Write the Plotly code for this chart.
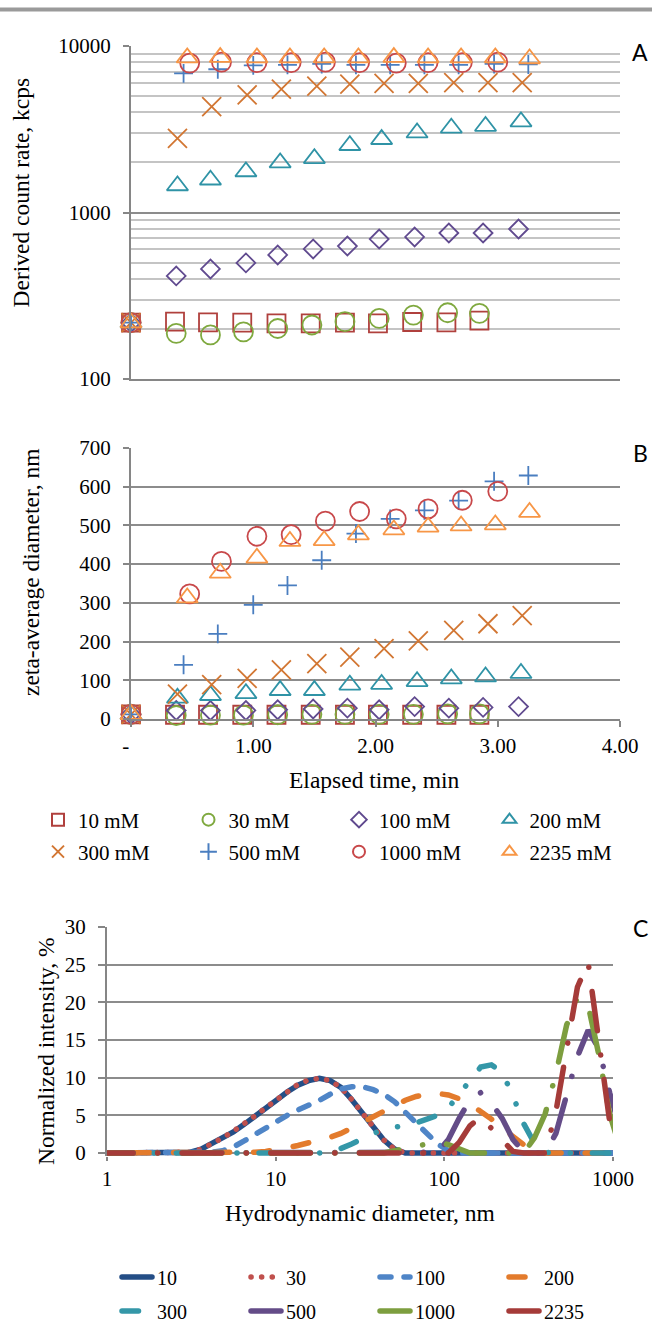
import plotly.graph_objects as go

W, H = 652, 1325

# ---------------- data: panels A & B (kinetics) ----------------
series_labels = ["10 mM", "30 mM", "100 mM", "200 mM", "300 mM", "500 mM", "1000 mM", "2235 mM"]

t_10 = [0, 0.36, 0.63, 0.91, 1.19, 1.47, 1.75, 2.02, 2.30, 2.58, 2.85]
t_30 = [0, 0.37, 0.65, 0.92, 1.20, 1.48, 1.75, 2.03, 2.31, 2.59, 2.85]
t_100 = [0, 0.37, 0.65, 0.94, 1.20, 1.49, 1.77, 2.03, 2.32, 2.60, 2.88, 3.17]
t_200 = [0, 0.38, 0.65, 0.94, 1.22, 1.50, 1.79, 2.05, 2.34, 2.62, 2.90, 3.19]
t_300 = [0, 0.38, 0.66, 0.95, 1.23, 1.52, 1.79, 2.07, 2.35, 2.64, 2.92, 3.20]
t_500 = [0, 0.43, 0.71, 1.00, 1.28, 1.56, 1.84, 2.12, 2.40, 2.68, 2.97, 3.25]
t_1000 = [0, 0.48, 0.74, 1.03, 1.31, 1.59, 1.87, 2.17, 2.43, 2.71, 3.00]
t_2235 = [0, 0.46, 0.73, 1.03, 1.30, 1.58, 1.86, 2.15, 2.43, 2.70, 2.98, 3.26]

# Panel A: derived count rate, kcps
rate_10 = [218, 221, 219, 218, 216, 216, 218, 216, 220, 219, 224]
rate_30 = [218, 188, 184, 192, 201, 211, 221, 231, 242, 250, 248]
rate_100 = [218, 416, 458, 498, 556, 604, 629, 693, 713, 753, 753, 796]
rate_200 = [218, 1450, 1570, 1760, 1990, 2110, 2530, 2750, 3010, 3220, 3300, 3510]
rate_300 = [218, 2790, 4320, 5080, 5500, 5750, 5910, 5970, 5970, 6030, 6030, 6030]
rate_500 = [218, 6850, 7250, 7650, 7700, 7800, 7700, 7700, 7700, 7700, 7800, 7750]
rate_1000 = [218, 7900, 8000, 7950, 7950, 8000, 7950, 7900, 7950, 7950, 8000]
rate_2235 = [218, 8500, 8550, 8500, 8500, 8500, 8500, 8550, 8500, 8500, 8500, 8400]

# Panel B: zeta-average diameter, nm
zave_10 = [12, 11, 11, 11, 11, 11, 11, 11, 11, 11, 11]
zave_30 = [12, 9, 10, 10, 11, 12, 12, 12, 12, 13, 13]
zave_100 = [12, 22, 22, 22, 24, 26, 28, 24, 32, 28, 30, 32]
zave_200 = [12, 54, 61, 66, 74, 74, 88, 90, 97, 104, 109, 118]
zave_300 = [12, 64, 89, 105, 127, 143, 160, 182, 202, 229, 246, 267]
zave_500 = [12, 140, 220, 295, 345, 410, 479, 517, 539, 564, 614, 629]
zave_1000 = [12, 323, 407, 472, 476, 511, 536, 517, 543, 565, 588]
zave_2235 = [12, 313, 377, 416, 459, 461, 476, 489, 496, 499, 502, 534]

rate_ticks = [100, 1000, 10000]
rate_ticktext = ["100", "1000", "10000"]
time_ticks = [0, 1, 2, 3, 4]
time_ticktext = ["-\u00a0\u00a0", "1.00", "2.00", "3.00", "4.00"]

# ---------------- data: panel C (intensity distributions) ----------------
psd_labels = ["10", "30", "100", "200", "300", "500", "1000", "2235"]
diam_nm = [0.8332, 0.9649, 1.117, 1.294, 1.499, 1.736, 2.01, 2.328, 2.696, 3.122,
           3.615, 4.187, 4.849, 5.615, 6.503, 7.531, 8.721, 10.1, 11.7, 13.54,
           15.69, 18.17, 21.04, 24.36, 28.21, 32.67, 37.84, 43.82, 50.75, 58.77,
           68.06, 78.82, 91.28, 105.7, 122.4, 141.8, 164.2, 190.1, 220.2, 255.0,
           295.3, 342.0, 396.1, 458.7, 531.2, 615.1, 712.4, 825.0, 955.4, 1106]
int_10 = [0, 0, 0, 0, 0, 0, 0, 0, 0, 0.1,
          0.5, 1.2, 2.0, 2.8, 3.8, 4.8, 5.9, 7.0, 8.1, 9.0,
          9.6, 9.9, 9.6, 8.7, 7.1, 5.3, 3.4, 1.7, 0.5, 0,
          0, 0, 0, 0, 0, 0, 0, 0, 0, 0,
          0, 0, 0, 0, 0, 0, 0, 0, 0, 0]
int_30 = [0, 0, 0, 0, 0, 0, 0, 0, 0, 0.1,
          0.5, 1.2, 2.0, 2.9, 3.8, 4.9, 6.0, 7.1, 8.2, 9.1,
          9.7, 9.9, 9.6, 8.7, 7.1, 5.3, 3.4, 1.7, 0.5, 0,
          0, 0, 0, 0, 0, 0, 0, 0, 0, 0,
          0, 0, 0, 0, 0, 0, 0, 0, 0, 0]
int_100 = [0, 0, 0, 0, 0, 0, 0, 0, 0, 0,
           0, 0.1, 0.3, 0.8, 1.6, 2.5, 3.4, 4.2, 5.0, 5.7,
           6.3, 7.0, 7.8, 8.5, 8.8, 8.8, 8.4, 7.8, 6.8, 5.4,
           4.0, 2.5, 1.2, 0.3, 0, 0, 0, 0, 0, 0,
           0, 0, 0, 0, 0, 0, 0, 0, 0, 0]
int_200 = [0, 0, 0, 0, 0, 0, 0, 0, 0, 0,
           0, 0, 0, 0, 0, 0.1, 0.2, 0.4, 0.7, 1.0,
           1.3, 1.7, 2.1, 2.6, 3.3, 4.1, 4.8, 5.6, 6.3, 7.0,
           7.5, 7.8, 7.9, 7.7, 7.2, 6.5, 5.6, 4.5, 3.3, 2.1,
           1.1, 0.4, 0, 0, 0, 0, 0, 0, 0, 0]
int_300 = [0, 0, 0, 0, 0, 0, 0, 0, 0, 0,
           0, 0, 0, 0, 0, 0, 0, 0, 0, 0,
           0, 0, 0.2, 0.6, 1.2, 2.0, 2.6, 3.1, 3.4, 3.6,
           4.0, 4.5, 5.0, 6.0, 7.8, 9.8, 11.4, 11.7, 10.7, 7.6,
           3.9, 1.3, 0.1, 0, 0, 0, 0, 0, 0, 0]
int_500 = [0, 0, 0, 0, 0, 0, 0, 0, 0, 0,
           0, 0, 0, 0, 0, 0, 0, 0, 0, 0,
           0, 0, 0, 0, 0, 0, 0, 0, 0, 0,
           0, 0, 0.1, 1.8, 4.6, 7.0, 8.0, 6.6, 4.6, 1.8,
           0.1, 0, 0, 2.6, 7.4, 12.8, 16.3, 13.8, 8.0, 3.0]
int_1000 = [0, 0, 0, 0, 0, 0, 0, 0, 0, 0,
            0, 0, 0, 0, 0, 0, 0, 0, 0, 0,
            0, 0, 0, 0, 0, 0, 0, 0, 0.3, 0.6,
            0.9, 1.2, 1.5, 1.1, 0.5, 0, 0, 0, 0, 0,
            0, 2.0, 5.2, 10.5, 17.0, 20.6, 19.6, 13.0, 5.2, 0.5]
int_2235 = [0, 0, 0, 0, 0, 0, 0, 0, 0, 0,
            0, 0, 0, 0, 0, 0, 0, 0, 0, 0,
            0, 0, 0, 0, 0, 0, 0, 0, 0, 0,
            0, 0, 0, 0, 1.4, 3.6, 4.8, 3.3, 1.6, 0.2,
            0, 0, 0, 5.5, 14.0, 22.0, 25.3, 15.0, 4.2, 0]

size_ticks = [1, 10, 100, 1000]
size_ticktext = ["1", "10", "100", "1000"]

# ---------------- styles ----------------
times = [t_10, t_30, t_100, t_200, t_300, t_500, t_1000, t_2235]
rates = [rate_10, rate_30, rate_100, rate_200, rate_300, rate_500, rate_1000, rate_2235]
zaves = [zave_10, zave_30, zave_100, zave_200, zave_300, zave_500, zave_1000, zave_2235]
intens = [int_10, int_30, int_100, int_200, int_300, int_500, int_1000, int_2235]

mk_symbols = ["square-open", "circle-open", "diamond-open", "triangle-up-open",
              "x-thin-open", "cross-thin-open", "circle-open", "triangle-up-open"]
mk_sizes = [18, 19, 14.5, 18.5, 19, 13.5, 19, 18.5]
mk_colors = ["#B0403D", "#7FA93F", "#604A8F", "#2F93A6",
             "#D27632", "#4A7EC0", "#C8484A", "#F79646"]

ln_colors = ["#244E86", "#C0504D", "#4F85C7", "#E37B2C",
             "#3497A8", "#644C88", "#7D9E3F", "#A53B39"]
ln_dash = ["solid", "0.1px,10.5px", "11px,13px", "16px,24px",
           "16.5px,22px,0.1px,22px,0.1px,22px",
           "39.5px,24.5px,0.1px,24.5px",
           "39.5px,24.5px,0.1px,24.5px",
           "39.5px,24.5px,0.1px,24.5px"]

SERIF = "Liberation Serif"
GRID = "#8C8C8C"
MINOR = "#C4C4C4"
AXC = "#868686"


def fx(px):
    return px / W


def fy(py):
    return 1 - py / H


fig = go.Figure()

# Panel A
for i in range(8):
    fig.add_trace(go.Scatter(
        x=times[i], y=rates[i], mode="markers", name=series_labels[i],
        xaxis="x", yaxis="y", showlegend=False, cliponaxis=False,
        marker=dict(symbol=mk_symbols[i], size=mk_sizes[i], color=mk_colors[i],
                    line=dict(width=1.8, color=mk_colors[i]))))

# Panel B
for i in range(8):
    fig.add_trace(go.Scatter(
        x=times[i], y=zaves[i], mode="markers", name=series_labels[i],
        xaxis="x2", yaxis="y2", cliponaxis=False,
        legend="legend" if i < 4 else "legend2",
        marker=dict(symbol=mk_symbols[i], size=mk_sizes[i], color=mk_colors[i],
                    line=dict(width=1.8, color=mk_colors[i]))))

# Panel C
for i in range(8):
    fig.add_trace(go.Scatter(
        x=diam_nm, y=intens[i], mode="lines", name=psd_labels[i],
        xaxis="x3", yaxis="y3",
        legend="legend3" if i < 4 else "legend4",
        line=dict(color=ln_colors[i], width=5.5, dash=ln_dash[i])))

tickfont = dict(family=SERIF, size=21, color="#000000")
common_x = dict(showgrid=False, zeroline=False, showline=True, linecolor=AXC, linewidth=2,
                ticks="outside", ticklen=6, tickwidth=1.5, tickcolor=AXC, tickfont=tickfont,
                automargin=False)
common_y = dict(showgrid=True, gridcolor=GRID, gridwidth=1.6, zeroline=False,
                showline=True, linecolor=AXC, linewidth=2,
                ticks="outside", ticklen=6, tickwidth=1.5, tickcolor=AXC,
                tickfont=tickfont, ticklabelstandoff=8, automargin=False)

leg_common = dict(orientation="h", xanchor="left", yanchor="middle",
                  entrywidthmode="pixels", bgcolor="rgba(0,0,0,0)", traceorder="normal")
leg_font_b = dict(family=SERIF, size=21, color="#000000")
leg_font_c = dict(family=SERIF, size=20, color="#000000")

x3_opts = {k: v for k, v in common_x.items() if k not in ("showline", "ticklen")}

fig.update_layout(
    width=W, height=H, margin=dict(l=0, r=0, t=0, b=0, autoexpand=False),
    paper_bgcolor="white", plot_bgcolor="white",
    xaxis=dict(domain=[fx(131), fx(620)], anchor="y", range=[0, 4],
               showticklabels=False, **{k: v for k, v in common_x.items() if k not in ("ticks", "tickfont")}),
    yaxis=dict(domain=[fy(379), fy(46)], anchor="x", type="log", range=[2, 4],
               tickmode="array", tickvals=rate_ticks, ticktext=rate_ticktext,
               minor=dict(dtick="D1", showgrid=True, gridcolor=MINOR, gridwidth=1.6, ticks=""),
               **common_y),
    xaxis2=dict(domain=[fx(131), fx(620)], anchor="y2", range=[0, 4],
                tickmode="array", tickvals=time_ticks, ticktext=time_ticktext,
                ticklabelstandoff=1, **common_x),
    yaxis2=dict(domain=[fy(719), fy(448)], anchor="x2", range=[0, 700], dtick=100,
                **common_y),
    xaxis3=dict(domain=[fx(107), fx(613)], anchor="y3", type="log", range=[0, 3],
                tickmode="array", tickvals=size_ticks, ticktext=size_ticktext,
                ticklabelstandoff=0, ticklen=4, showline=False, **x3_opts),
    yaxis3=dict(domain=[fy(1156), fy(927)], anchor="x3", range=[-0.4, 30], dtick=5,
                tick0=0, **{k: v for k, v in common_y.items() if k != "ticklen"}, ticklen=7),
    legend=dict(x=fx(38), y=fy(820), entrywidth=105.5, itemsizing="constant",
                font=leg_font_b, **leg_common),
    legend2=dict(x=fx(38), y=fy(852), entrywidth=105.5, itemsizing="constant",
                 font=leg_font_b, **leg_common),
    legend3=dict(x=fx(117), y=fy(1277), entrywidth=84, font=leg_font_c, **leg_common),
    legend4=dict(x=fx(117), y=fy(1311), entrywidth=84, font=leg_font_c, **leg_common),
    shapes=[dict(type="line", xref="paper", yref="paper", x0=0, x1=1,
                 y0=fy(9.5), y1=fy(9.5), line=dict(color="#9A9A9A", width=4))],
)

title_font = dict(family=SERIF, size=23.5, color="#000000")
label_font = dict(family="Lato", size=23, color="#000000")
annots = [
    dict(text="Derived count rate, kcps", x=fx(21), y=fy(192.5), textangle=-90, font=title_font),
    dict(text="zeta-average diameter, nm", x=fx(31), y=fy(572), textangle=-90, font=title_font),
    dict(text="Normalized intensity, %", x=fx(46), y=fy(1051), textangle=-90, font=title_font),
    dict(text="Elapsed time, min", x=fx(374), y=fy(780), font=title_font),
    dict(text="Hydrodynamic diameter, nm", x=fx(360), y=fy(1213), font=title_font),
    dict(text="A", x=fx(640), y=fy(52.5), font=label_font),
    dict(text="B", x=fx(640), y=fy(453), font=label_font),
    dict(text="C", x=fx(640), y=fy(928), font=label_font),
]
for a in annots:
    a.update(xref="paper", yref="paper", showarrow=False, xanchor="center", yanchor="middle")
fig.update_layout(annotations=annots)

post = """
document.body.style.margin = '0';
document.body.style.padding = '0';
document.documentElement.style.overflow = 'hidden';
var gd = document.getElementById('{plot_id}');
function rc(){ gd.querySelectorAll('path.js-line, .legendlines path').forEach(function(p){ p.style.strokeLinecap = 'round'; }); }
rc();
if (gd.on) { gd.on('plotly_afterplot', rc); }
"""
fig.write_html("out.html", post_script=post, config={"displayModeBar": False})
